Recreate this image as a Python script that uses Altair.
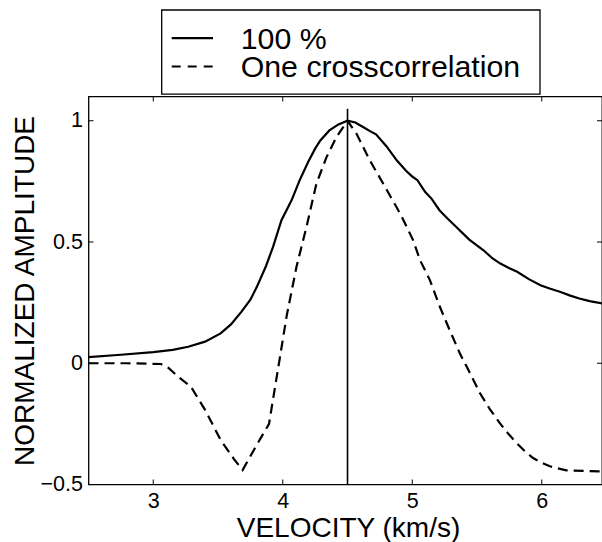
import altair as alt
import pandas as pd

# ---------------- data ----------------
V_SOLID = [2.50, 2.75, 3.00, 3.15, 3.27, 3.40, 3.52, 3.60, 3.68, 3.75, 3.80, 3.87, 3.925,
           3.99, 4.068, 4.13, 4.196, 4.25, 4.29, 4.36, 4.43, 4.50, 4.56, 4.62, 4.68, 4.72,
           4.76, 4.80, 4.88, 4.95, 5.00, 5.04, 5.10, 5.15, 5.21, 5.27, 5.34, 5.44, 5.55,
           5.62, 5.68, 5.75, 5.81, 5.90, 5.99, 6.06, 6.14, 6.22, 6.29, 6.37, 6.465]
A_SOLID = [0.025, 0.035, 0.046, 0.055, 0.068, 0.089, 0.123, 0.160, 0.212, 0.262, 0.315, 0.400, 0.480,
           0.590, 0.672, 0.754, 0.830, 0.885, 0.919, 0.960, 0.985, 1.000, 0.993, 0.974, 0.955, 0.944,
           0.920, 0.895, 0.837, 0.795, 0.770, 0.755, 0.706, 0.678, 0.631, 0.598, 0.562, 0.510, 0.466,
           0.432, 0.411, 0.392, 0.377, 0.347, 0.322, 0.308, 0.295, 0.279, 0.267, 0.256, 0.247]

V_DASH = [2.50, 2.80, 3.06, 3.12, 3.19, 3.29, 3.40, 3.52, 3.627, 3.69, 3.79, 3.894, 3.92,
          3.95, 3.975, 4.03, 4.106, 4.183, 4.26, 4.338, 4.415, 4.50, 4.57, 4.672, 4.775,
          4.878, 4.92, 5.007, 5.06, 5.136, 5.213, 5.29, 5.367, 5.45, 5.522, 5.60, 5.676,
          5.74, 5.805, 5.87, 5.933, 6.00, 6.062, 6.19, 6.465]
A_DASH = [0.000, 0.000, -0.003, -0.020, -0.055, -0.096, -0.192, -0.316, -0.398, -0.440, -0.345, -0.250, -0.165,
          -0.067, 0.014, 0.195, 0.398, 0.562, 0.741, 0.850, 0.933, 1.000, 0.946, 0.837, 0.741,
          0.644, 0.603, 0.507, 0.425, 0.343, 0.233, 0.135, 0.041, -0.045, -0.123, -0.190, -0.247,
          -0.290, -0.329, -0.363, -0.391, -0.410, -0.425, -0.442, -0.446]

PEAK_V = [4.5]
PEAK_SPAN_LOW = [-0.5]
PEAK_SPAN_HIGH = [1.05]

X_TICKS = [3, 4, 5, 6]
Y_TICKS = [-0.5, 0, 0.5, 1]
X_DOMAIN = [2.5, 6.465]
Y_DOMAIN = [-0.5, 1.1]

LEGEND_LABELS = ["100 %", "One crosscorrelation"]
X_TITLE = "VELOCITY (km/s)"
Y_TITLE = "NORMALIZED AMPLITUDE"

# ---------------- layout ----------------
W, H = 513.5, 388
FONT = "Liberation Sans"
DASH = [10, 6]

xscale = alt.Scale(domain=X_DOMAIN, nice=False, zero=False)
yscale = alt.Scale(domain=Y_DOMAIN, nice=False, zero=False)

xaxis = alt.Axis(values=X_TICKS, format="~g", title=X_TITLE, grid=False, domain=False,
                 ticks=False, tickSize=0, labelPadding=6, labelFontSize=21.5,
                 labelColor="black", titleFontSize=28, titleFontWeight="normal",
                 titleColor="black", titleBaseline="alphabetic", titleX=259.5, titleY=51.5)
yaxis = alt.Axis(values=Y_TICKS, format="~g", title=Y_TITLE, grid=False, domain=False,
                 ticks=False, tickSize=0, labelPadding=6, labelFontSize=21.5,
                 labelColor="black", titleFontSize=28, titleFontWeight="normal",
                 titleColor="black", titleBaseline="alphabetic", titleX=-55.2,
                 titleY=H / 2)

X = alt.X("v:Q", scale=xscale, axis=xaxis)
Y = alt.Y("a:Q", scale=yscale, axis=yaxis)

solid_df = pd.DataFrame({"v": V_SOLID, "a": A_SOLID})
dash_df = pd.DataFrame({"v": V_DASH, "a": A_DASH})
peak_df = pd.DataFrame({"v": PEAK_V, "a": PEAK_SPAN_LOW, "a2": PEAK_SPAN_HIGH})
xt_df = pd.DataFrame({"v": X_TICKS})
yt_df = pd.DataFrame({"a": Y_TICKS})

solid = alt.Chart(solid_df).mark_line(color="black", strokeWidth=2.2).encode(x=X, y=Y, order="v:Q")
dashed = alt.Chart(dash_df).mark_line(color="black", strokeWidth=2.2, strokeDash=DASH).encode(
    x=X, y=Y, order="v:Q")
peak = alt.Chart(peak_df).mark_rule(color="black", strokeWidth=1.6).encode(x=X, y=Y, y2="a2:Q")

TL = 5
tick_style = dict(color="black", strokeWidth=1)
xt_bottom = alt.Chart(xt_df).mark_rule(**tick_style).encode(x=X, y=alt.value(H), y2=alt.value(H - TL))
xt_top = alt.Chart(xt_df).mark_rule(**tick_style).encode(x=X, y=alt.value(0), y2=alt.value(TL))
yt_left = alt.Chart(yt_df).mark_rule(**tick_style).encode(y=Y, x=alt.value(0), x2=alt.value(TL))
yt_right = alt.Chart(yt_df).mark_rule(**tick_style).encode(y=Y, x=alt.value(W), x2=alt.value(W - TL))

# ---------------- legend (drawn above the plot) ----------------
leg_df = pd.DataFrame({"label": LEGEND_LABELS})
legend_box = alt.Chart(leg_df.head(1)).mark_rect(fill="white", stroke="black", strokeWidth=1.3).encode(
    x=alt.value(73.2), x2=alt.value(451.5), y=alt.value(-86.5), y2=alt.value(-2.3))

legend_layers = [legend_box]
sym_y = [-58.4, -30.0]
txt_y = [-47.4, -19.4]
for i, lab in enumerate(LEGEND_LABELS):
    row = leg_df.iloc[[i]]
    style = dict(color="black", strokeWidth=2.2)
    if i == 1:
        style["strokeDash"] = [9, 7]
    legend_layers.append(
        alt.Chart(row).mark_rule(**style).encode(
            x=alt.value(83.2), x2=alt.value(124.5), y=alt.value(sym_y[i])))
    legend_layers.append(
        alt.Chart(row).mark_text(align="left", baseline="alphabetic", fontSize=30.3,
                                 color="black", font=FONT).encode(
            text="label:N", x=alt.value(152.2), y=alt.value(txt_y[i])))

chart = alt.layer(
    peak, solid, dashed, xt_bottom, xt_top, yt_left, yt_right, *legend_layers
).properties(
    width=W, height=H,
    autosize=alt.AutoSizeParams(type="none"),
    padding={"left": 88.5, "top": 96.5, "right": 0, "bottom": 57.5},
).configure(
    font=FONT
).configure_view(
    stroke="black", strokeWidth=1.3
).configure_axis(
    labelFont=FONT, titleFont=FONT
)

chart.save("out.html", embed_options={"renderer": "svg", "actions": False})
